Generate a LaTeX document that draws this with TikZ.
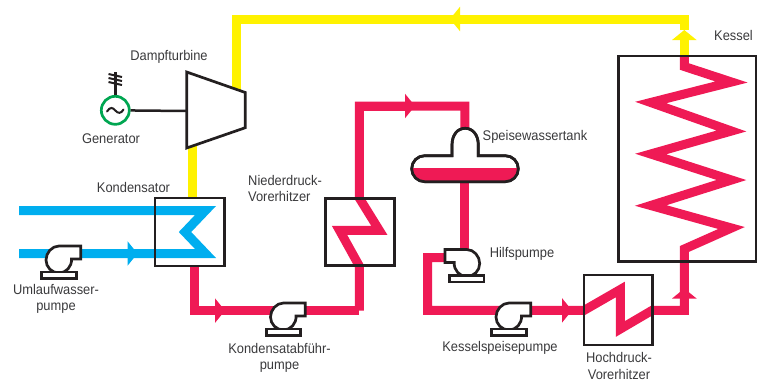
\documentclass[tikz,border=0pt]{standalone}
\usepackage{fontspec}
\setmainfont{Liberation Sans}[FakeStretch=0.92]
\usetikzlibrary{arrows.meta}
\definecolor{dampfgelb}{HTML}{FFF200}
\definecolor{wasserrot}{HTML}{EF1A55}
\definecolor{kuehlblau}{HTML}{00AEEF}
\definecolor{genfarbe}{HTML}{00A651}
\definecolor{linie}{HTML}{231F20}
\definecolor{schrift}{HTML}{3A3A3C}
\tikzstyle{dampf}=[line width=9pt,draw=dampfgelb,miter limit=10]
\tikzstyle{wasser}=[line width=9pt,draw=wasserrot,miter limit=10]
\tikzstyle{kuehl}=[line width=9pt,draw=kuehlblau,miter limit=10]
\tikzstyle{pfeil}=[-{Triangle[length=10pt,width=24pt]}]
\tikzstyle{apparat}=[rectangle,
line width=2.5pt,
draw=linie,
inner sep=0pt]
\tikzstyle{bauteil}=[line width=2.7pt,draw=linie,fill=white,line join=miter]
\tikzstyle{pumpmitte}=[inner sep=0pt,minimum size=0pt]
\tikzstyle{beschriftung}=[text=schrift,font=\fontsize{14}{16.2}\selectfont,inner sep=0pt,align=center]
% #1 name of the centre node, #2 = 1 outlet to the right, -1 to the left
\newcommand{\pumpengehaeuse}[2]{
\begin{scope}[shift={(#1.center)},xscale=#2]
\draw[bauteil] (12.5,-1) .. controls (13,6.5) and (7.2,13) .. (0,13) .. controls (-7.2,13) and (-13,7.2) .. (-13,0) .. controls (-13,-7.2) and (-7.2,-14) .. (0,-14) -- (21.7,-14) -- (21.7,-1) -- cycle;
\draw[bauteil] (-17.2,12) rectangle (17.2,18.5);
\end{scope}
}
\newcommand{\tankumriss}{(452,155.7) -- (424.7,155.7) .. controls (417.5,155.7) and (411.7,161.5) .. (411.7,168.7) .. controls (411.7,175.9) and (417.5,181.7) .. (424.7,181.7) -- (505.3,181.7) .. controls (512.5,181.7) and (518.3,175.9) .. (518.3,168.7) .. controls (518.3,161.5) and (512.5,155.7) .. (505.3,155.7) -- (478.3,155.7) -- (478.3,145) .. controls (478.3,134.5) and (472.5,128.3) .. (465.15,128.3) .. controls (457.8,128.3) and (452,134.5) .. (452,145) -- cycle}
\begin{document}
\begin{tikzpicture}[x=1pt,y=-1pt,line join=miter]
\useasboundingbox (0,0) rectangle (765,381);
% corner points of the steam, feed water and cooling lines
\coordinate (d_a) at (684.3,56);
\coordinate (d_b) at (684.3,30);
\coordinate (d_c) at (684.3,19);
\coordinate (d_d) at (450,19);
\coordinate (d_e) at (236.5,19);
\coordinate (d_f) at (236.5,95);
\coordinate (d_g) at (192.5,145);
\coordinate (d_h) at (192.5,198);
\coordinate (k_a) at (19,210.5);
\coordinate (k_b) at (205.5,210.5);
\coordinate (k_c) at (185,232);
\coordinate (k_d) at (205.5,253.5);
\coordinate (k_e) at (137.5,253.5);
\coordinate (k_f) at (19,253.5);
\coordinate (w_a) at (194.3,266);
\coordinate (w_b) at (194.3,310.6);
\coordinate (w_c) at (225,310.6);
\coordinate (w_d) at (359.3,310.6);
\coordinate (w_e) at (359.3,266);
\coordinate (w_f) at (339.5,230.3);
\coordinate (w_g) at (379.3,230.3);
\coordinate (w_h) at (359.3,198);
\coordinate (w_i) at (359.3,106);
\coordinate (w_j) at (415,106);
\coordinate (w_k) at (464.8,106);
\coordinate (w_l) at (464.8,130);
\coordinate (w_m) at (464.8,180);
\coordinate (w_n) at (464.8,252);
\coordinate (w_o) at (446,257.7);
\coordinate (w_p) at (427.7,257.7);
\coordinate (w_q) at (427.7,310.4);
\coordinate (w_r) at (572,310.4);
\coordinate (w_s) at (584,310.4);
\coordinate (w_t) at (620.3,289.5);
\coordinate (w_u) at (620.3,329);
\coordinate (w_v) at (652,310.4);
\coordinate (w_w) at (684.3,310.4);
\coordinate (w_x) at (684.3,288.5);
\coordinate (z_a) at (684.3,249);
\coordinate (z_b) at (731.5,228);
\coordinate (z_c) at (650.7,205.5);
\coordinate (z_d) at (731.5,180);
\coordinate (z_e) at (650.7,154);
\coordinate (z_f) at (731.5,131);
\coordinate (z_g) at (650.7,102.5);
\coordinate (z_h) at (731.5,82);
\coordinate (z_i) at (684.3,66.5);
\coordinate (z_j) at (684.3,56);

% Steam
\draw[dampf,pfeil] (d_a) -- (d_b);
\draw[dampf] (d_b) -- (d_c) -- (d_d);
\draw[dampf,pfeil] (d_c) -- (d_d);
\draw[dampf] (d_d) -- (d_e) -- (d_f);
\draw[dampf] (d_g) -- (d_h);

% Cooling water
\draw[kuehl] (k_a) -- (k_b) -- (k_c) -- (k_d) -- (k_f);
\draw[kuehl,pfeil] (k_f) -- (k_e);

% Feed water
\draw[wasser] (w_a) -- (w_b) -- (w_d);
\draw[wasser,pfeil] (w_b) -- (w_c);
\draw[wasser] (w_d) -- (w_e) -- (w_f) -- (w_g) -- (w_h) -- (w_i) -- (w_k) -- (w_l);
\draw[wasser,pfeil] (w_i) -- (w_j);
\draw[wasser] (w_m) -- (w_n);
\draw[wasser] (w_o) -- (w_p) -- (w_q) -- (w_s) -- (w_t) -- (w_u) -- (w_v) -- (w_w) -- (z_a) -- (z_b) -- (z_c) -- (z_d) -- (z_e) -- (z_f) -- (z_g) -- (z_h) -- (z_i) -- (z_j);
\draw[wasser,pfeil] (w_q) -- (w_r);
\draw[wasser,pfeil] (w_w) -- (w_x);

% Apparatus
\node (kessel) [apparat,minimum width=137.7pt,minimum height=205.3pt] at (687.2,158.7) {};
\node (kondensator) [apparat,minimum width=69.3pt,minimum height=68pt] at (189.7,232) {};
\node (nd_vorw) [apparat,minimum width=68.6pt,minimum height=67.4pt] at (360,232) {};
\node (hd_vorw) [apparat,minimum width=68.3pt,minimum height=70pt] at (618.2,310) {};

% Feed water tank
\draw[bauteil] \tankumriss;
\begin{scope}
\clip (405,168.3) rectangle (525,190);
\fill[wasserrot] \tankumriss;
\end{scope}
\draw[line width=2.7pt,draw=linie] \tankumriss;

% Pumps
\node (p_umlauf) [pumpmitte] at (59,260) {};
\pumpengehaeuse{p_umlauf}{1}
\node (p_kond) [pumpmitte] at (283.5,317) {};
\pumpengehaeuse{p_kond}{1}
\node (p_hilf) [pumpmitte] at (466.7,263.5) {};
\pumpengehaeuse{p_hilf}{-1}
\node (p_kessel) [pumpmitte] at (509,317) {};
\pumpengehaeuse{p_kessel}{1}

% Turbine and generator
\draw[bauteil] (186.7,72) -- (245.3,92.5) -- (245.3,127.7) -- (186.7,148) -- cycle;
\coordinate (turbine) at (186.7,111);
\node (generator) [circle,line width=2.7pt,draw=genfarbe,fill=white,inner sep=0pt,minimum size=28pt] at (115.3,110.3) {};
\draw[line width=2.5pt,draw=linie] (generator) -- (turbine);
\coordinate (erde) at (115.3,71.7);
\draw[line width=2.5pt,draw=linie] (generator) -- (erde);
\draw[line width=2pt,draw=linie] (108.5,74) -- (122,77) (108.5,78) -- (122,81) (108.5,82) -- (122,85);
\draw[line width=2pt,draw=linie,line cap=round] (107,111.5) .. controls (110,106.5) and (113,107.5) .. (115.3,110.5) .. controls (118,113.5) and (121,114) .. (123.5,109.5);

% Labels
\node (l_turbine) [beschriftung] at (169,57) {Dampfturbine};
\node (l_generator) [beschriftung] at (111,139) {Generator};
\node (l_kondensator) [beschriftung] at (133.5,187) {Kondensator};
\node (l_nd) [beschriftung,align=left,anchor=west] at (248,188.5) {Niederdruck-\\Vorerhitzer};
\node (l_tank) [beschriftung] at (535,137) {Speisewassertank};
\node (l_hilf) [beschriftung] at (522,254) {Hilfspumpe};
\node (l_kessel) [beschriftung] at (733.5,35) {Kessel};
\node (l_umlauf) [beschriftung] at (56,299) {Umlaufwasser-\\pumpe};
\node (l_kond) [beschriftung] at (279.5,358) {Kondensatabführ-\\pumpe};
\node (l_kessp) [beschriftung] at (500,348) {Kesselspeisepumpe};
\node (l_hd) [beschriftung] at (619,366) {Hochdruck-\\Vorerhitzer};
\end{tikzpicture}
\end{document}
